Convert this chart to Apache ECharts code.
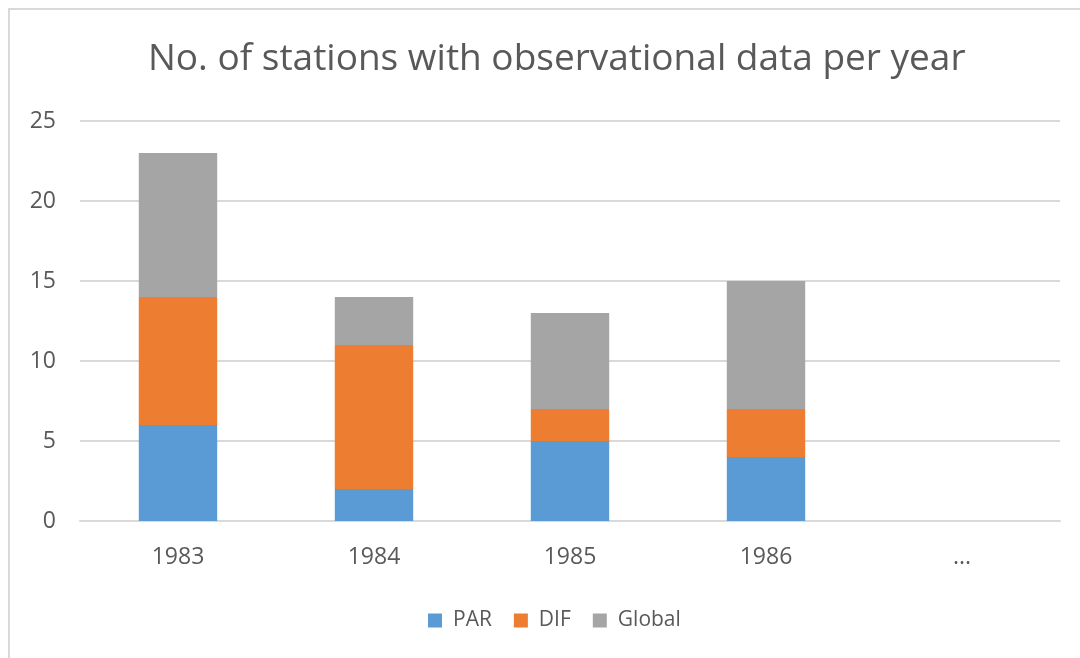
<!DOCTYPE html>
<html>
<head>
    <meta charset="utf-8">
    <title>No. of stations with observational data per year</title>
    <script src="https://cdn.jsdelivr.net/npm/echarts@6/dist/echarts.min.js"></script>
</head>
<style>
    body
    {
        margin:0;
        background:#fff;
    }
    #frame
    {
        position:absolute;
        left:8px;
        top:8px;
        width:1100px;
        height:700px;
        border-left:2px solid #d9d9d9;
        border-top:2px solid #d9d9d9;
    }
    #main
    {
        position:absolute;
        left:0;
        top:0;
        width:1080px;
        height:658px;
    }
</style>
<body>
    <div id="frame"></div>
    <div id="main"></div>
    <script type="text/javascript">
        var years = ['1983', '1984', '1985', '1986', '...'];
        var par = [6, 2, 5, 4, null];
        var dif = [8, 9, 2, 3, null];
        var global = [9, 3, 6, 8, null];

        var textColor = '#595959';
        var font = '"Open Sans", "Noto Sans", sans-serif';

        var myChart = echarts.init(document.getElementById('main'));
        var option = {
            animation: false,
            title: {
                text: 'No. of stations with observational data per year',
                left: 143,
                top: 36,
                textStyle: { color: textColor, fontSize: 37, fontWeight: 'normal', fontFamily: font }
            },
            legend: {
                bottom: 22,
                left: 423,
                itemWidth: 14,
                itemHeight: 14,
                itemGap: 22,
                icon: 'rect',
                textStyle: { color: textColor, fontSize: 21, fontFamily: font, padding: [0, 0, 0, 6] },
                data: ['PAR', 'DIF', 'Global']
            },
            grid: { left: 80, right: 20, top: 121, bottom: 137 },
            xAxis: {
                type: 'category',
                data: years,
                axisLine: { lineStyle: { color: '#d9d9d9', width: 2 } },
                axisTick: { show: false },
                axisLabel: { color: textColor, fontSize: 23, margin: 25, fontFamily: font }
            },
            yAxis: {
                type: 'value',
                min: 0,
                max: 25,
                interval: 5,
                axisLine: { show: false },
                axisTick: { show: false },
                splitLine: { lineStyle: { color: '#d9d9d9', width: 2 } },
                axisLabel: { color: textColor, fontSize: 23, margin: 24, fontFamily: font }
            },
            series: [
                { name: 'PAR', type: 'bar', stack: 's', data: par, barWidth: '40%', itemStyle: { color: '#5b9bd5' } },
                { name: 'DIF', type: 'bar', stack: 's', data: dif, barWidth: '40%', itemStyle: { color: '#ed7d31' } },
                { name: 'Global', type: 'bar', stack: 's', data: global, barWidth: '40%', itemStyle: { color: '#a5a5a5' } }
            ]
        };
        myChart.setOption(option);
    </script>
</body>
</html>
